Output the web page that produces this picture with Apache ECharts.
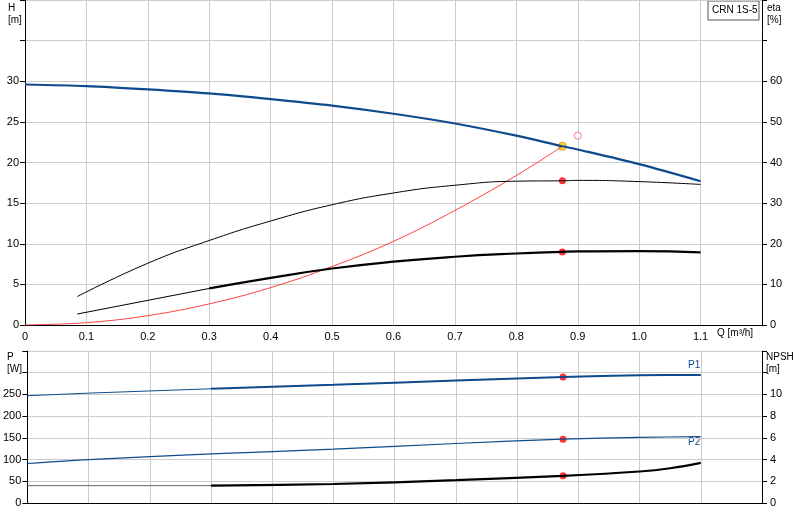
<!DOCTYPE html><html><head><meta charset="utf-8"><script src="https://cdn.jsdelivr.net/npm/echarts@6/dist/echarts.min.js"></script></head><body style="margin:0"><div id="c" style="width:800px;height:520px"></div><script>
const qH=[0,0.1,0.2,0.3,0.4,0.5,0.6,0.7,0.8,0.875,0.9,1.0,1.1];
const hVal=[29.6,29.4,29.0,28.5,27.8,27.0,26.0,24.8,23.3,22.0,21.6,19.8,17.7];
const qEta=[0.085,0.2,0.3,0.4,0.5,0.6,0.7,0.8,0.875,0.9,1.0,1.1];
const etaUp=[7,15.2,20.8,25.6,29.6,32.5,34.4,35.4,35.5,35.6,35.3,34.6];
const qEt2=[0.085,0.3,0.4,0.5,0.6,0.7,0.8,0.875,0.9,1.0,1.1];
const etaLo=[2.7,9,11.6,13.9,15.6,16.8,17.6,18,18.1,18.2,17.9];
const qSys=[0,0.1,0.2,0.3,0.4,0.5,0.6,0.7,0.8,0.875];
const hSys=[0,0.29,1.15,2.6,4.6,7.2,10.3,14.1,18.4,22];
const qP=[0,0.1,0.3,0.5,0.7,0.875,1.0,1.1];
const p1=[247,253,263,272,282,290,294,295];
const p2=[91,100,113,124,137,147,151,153];
const qN=[0,0.3,0.5,0.7,0.875,1.0,1.05,1.1];
const npsh=[1.6,1.6,1.75,2.1,2.5,2.9,3.2,3.7];
const dutyQ=0.875;
const z=(a,b)=>a.map((x,i)=>[x,b[i]]);
const seg=(a,b,lo,hi)=>z(a,b).filter(p=>p[0]>=lo&&p[0]<=hi);
const ln=(name,data,x,y,color,w,extra)=>Object.assign({type:'line',name,data,xAxisIndex:x,yAxisIndex:y,smooth:0.3,symbol:'none',lineStyle:{color,width:w},silent:true},extra||{});
const grid={color:'#ccc',width:1};
const ch=echarts.init(document.getElementById('c'));
const ax={color:'#000',fontSize:11,fontFamily:'Arial'};
ch.setOption({animation:false,
grid:[{left:25,right:38,top:0,height:325},{left:25,right:38,top:351,height:152}],
xAxis:[{gridIndex:0,type:'value',min:0,max:1.2,interval:0.1,axisLine:{lineStyle:{color:'#000'}},axisTick:{show:false},splitLine:{lineStyle:grid},axisLabel:Object.assign({formatter:v=>v>1.15?'':(v===0?'0':v.toFixed(1)),margin:6},ax)},
{gridIndex:1,type:'value',min:0,max:1.2,interval:0.1,axisLine:{lineStyle:{color:'#000'}},axisTick:{show:false},axisLabel:{show:false},splitLine:{lineStyle:grid}}],
yAxis:[{gridIndex:0,min:0,max:40,interval:5,axisLine:{show:true,lineStyle:{color:'#000'}},axisTick:{show:true},splitLine:{lineStyle:grid},axisLabel:Object.assign({formatter:v=>v>30?'':v,margin:6},ax)},
{gridIndex:0,position:'right',min:0,max:80,interval:10,axisLine:{show:true,lineStyle:{color:'#000'}},axisTick:{show:true},splitLine:{show:false},axisLabel:Object.assign({formatter:v=>v>60?'':v},ax)},
{gridIndex:1,min:0,max:350,interval:50,axisLine:{show:true,lineStyle:{color:'#000'}},axisTick:{show:true},splitLine:{lineStyle:grid},axisLabel:Object.assign({formatter:v=>v>250?'':v,margin:6},ax)},
{gridIndex:1,position:'right',min:0,max:14,interval:2,axisLine:{show:true,lineStyle:{color:'#000'}},axisTick:{show:true},splitLine:{show:false},axisLabel:Object.assign({formatter:v=>v>10?'':v},ax)}],
graphic:[
{type:'text',left:8,top:2,style:{text:'H\n[m]',font:'10px Arial',fill:'#000',lineHeight:12}},
{type:'text',left:767,top:2,style:{text:'eta\n[%]',font:'10px Arial',fill:'#000',lineHeight:12}},
{type:'rect',shape:{x:708,y:1,width:51,height:19},style:{fill:'#fff',stroke:'#555'}},
{type:'text',left:712,top:5,style:{text:'CRN 1S-5',font:'10px Arial',fill:'#000'}},
{type:'text',left:717,top:328,style:{text:'Q [m³/h]',font:'10px Arial',fill:'#000'}},
{type:'text',left:7,top:351,style:{text:'P\n[W]',font:'10px Arial',fill:'#000',lineHeight:12}},
{type:'text',left:766,top:351,style:{text:'NPSH\n[m]',font:'10px Arial',fill:'#000',lineHeight:12}},
{type:'text',left:688,top:360,style:{text:'P1',font:'10px Arial',fill:'#0e4a8c'}},
{type:'text',left:688,top:437,style:{text:'P2',font:'10px Arial',fill:'#0e4a8c'}}],
series:[
ln('sys',z(qSys,hSys),0,0,'#ff4040',1,{smooth:0.4}),
ln('H',z(qH,hVal),0,0,'#0e4a8c',2.2),
ln('etaUp',z(qEta,etaUp),0,1,'#000',1,{smooth:0.5}),
ln('etaLoThin',seg(qEt2,etaLo,0,0.3),0,1,'#000',1,{smooth:0}),
ln('etaLo',seg(qEt2,etaLo,0.3,1.2),0,1,'#000',2.2,{smooth:0.5}),
{type:'scatter',xAxisIndex:0,yAxisIndex:1,data:[[dutyQ,etaUp[8]],[dutyQ,etaLo[7]]],symbolSize:7,itemStyle:{color:'#f00'},silent:true},
{type:'scatter',xAxisIndex:0,yAxisIndex:0,data:[[0.9,23.3]],symbolSize:7,itemStyle:{color:'#fff',borderColor:'#f55',borderWidth:1},silent:true},
{type:'scatter',xAxisIndex:0,yAxisIndex:0,data:[[dutyQ,22]],symbolSize:8,itemStyle:{color:'#ffd400',borderColor:'#e08000',borderWidth:1},silent:true},
ln('p1thin',seg(qP,p1,0,0.3),1,2,'#0e4a8c',1,{smooth:0}),
ln('p1',seg(qP,p1,0.3,1.2),1,2,'#0e4a8c',2),
ln('p2',z(qP,p2),1,2,'#0e4a8c',1.2),
ln('nthin',seg(qN,npsh,0,0.3),1,3,'#666',1,{smooth:0}),
ln('n',seg(qN,npsh,0.3,1.2),1,3,'#000',2.2),
{type:'scatter',xAxisIndex:1,yAxisIndex:2,data:[[dutyQ,p1[5]],[dutyQ,p2[5]]],symbolSize:7,itemStyle:{color:'#f00'},silent:true},
{type:'scatter',xAxisIndex:1,yAxisIndex:3,data:[[dutyQ,npsh[4]]],symbolSize:7,itemStyle:{color:'#f00'},silent:true}
]});
</script></body></html>
